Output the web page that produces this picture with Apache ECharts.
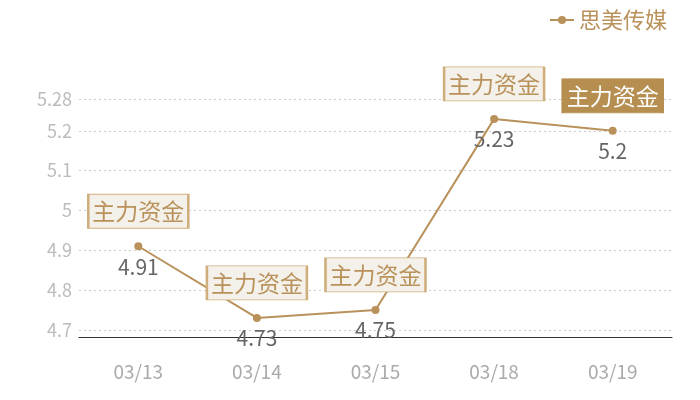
<!DOCTYPE html>
<html lang="zh">
<head>
  <meta charset="UTF-8">
  <title>思美传媒</title>
  <script src="https://cdn.jsdelivr.net/npm/echarts@6/dist/echarts.min.js"></script>
  <style>
    html, body { margin: 0; padding: 0; background: #fff; }
  </style>
</head>
<body>
  <div id="chart" style="width: 700px; height: 400px"></div>
  <script>
    let days = ['03/13', '03/14', '03/15', '03/18', '03/19']
    let price = [4.91, 4.73, 4.75, 5.23, 5.2]
    let flagText = '主力资金'
    let flagDays = ['03/13', '03/14', '03/15', '03/18', '03/19']
    let activeFlag = '03/19'

    let gold = '#b9915a'
    let font = '"Noto Sans CJK SC", "Noto Sans", sans-serif'

    let flags = flagDays.map(d => {
      let on = d === activeFlag
      return {
        coord: [d, price[days.indexOf(d)]],
        value: flagText,
        itemStyle: {
          color: on ? '#b58e50' : '#f4f0ea',
          borderColor: on ? '#b58e50' : '#cfae7c',
          borderWidth: 1.5
        },
        label: { color: on ? '#fff' : gold }
      }
    })

    let chart = echarts.init(document.getElementById('chart'))
    chart.setOption({
      textStyle: { fontFamily: font },
      legend: {
        right: 28,
        top: 4,
        itemWidth: 24,
        itemHeight: 10,
        itemGap: 6,
        textStyle: { color: gold, fontSize: 22, fontFamily: font },
        data: ['思美传媒']
      },
      grid: { left: 79, right: 28, top: 99, bottom: 63 },
      xAxis: {
        type: 'category',
        data: days,
        axisLine: { lineStyle: { color: '#333' } },
        axisTick: { show: false },
        axisLabel: { color: '#aaa', fontSize: 19, margin: 25 }
      },
      yAxis: {
        type: 'value',
        min: 4.682,
        max: 5.28,
        axisLine: { show: false },
        axisTick: { show: false },
        axisLabel: { color: '#bbb', fontSize: 18, margin: 7, showMinLabel: false },
        splitLine: { lineStyle: { color: '#ccc', type: [2, 3] } }
      },
      series: [{
        name: '思美传媒',
        type: 'line',
        data: price,
        symbol: 'circle',
        symbolSize: 8,
        color: gold,
        lineStyle: { width: 2, color: gold },
        label: {
          show: true,
          position: 'bottom',
          distance: 6,
          color: '#666',
          fontSize: 21
        },
        markPoint: {
          symbol: 'rect',
          symbolSize: [100, 34],
          symbolOffset: [0, -35],
          label: {
            show: true,
            formatter: flagText,
            fontSize: 23
          },
          data: flags
        }
      }]
    })
  </script>
</body>
</html>
